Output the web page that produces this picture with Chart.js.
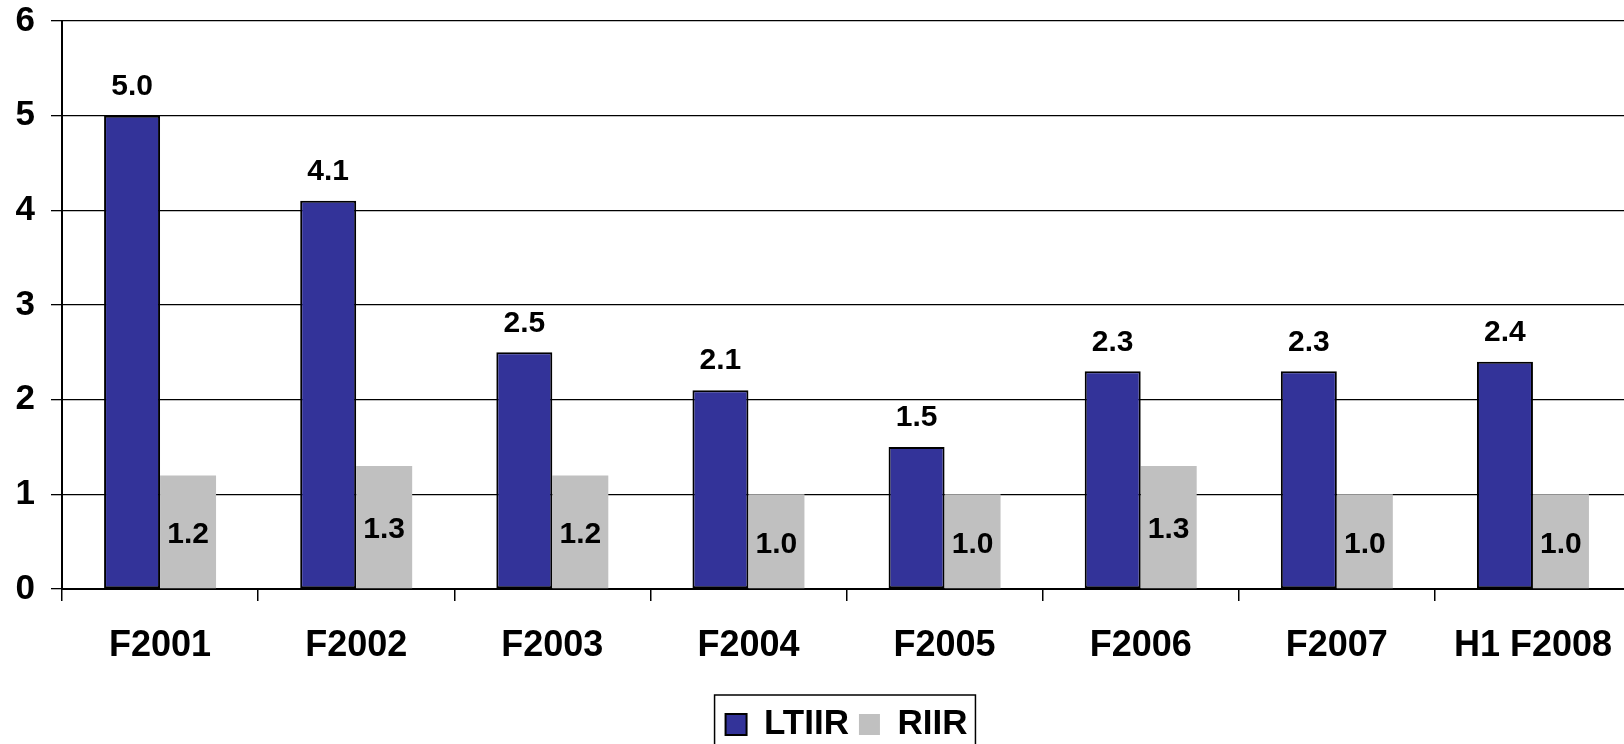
<!DOCTYPE html>
<html>
<head>
<meta charset="utf-8">
<title>LTIIR / RIIR</title>
<script src="https://cdn.jsdelivr.net/npm/chart.js@4.4.1/dist/chart.umd.min.js"></script>
<style>
  html, body { margin: 0; padding: 0; background: #fff; overflow: hidden; }
  #wrap { width: 1635px; height: 744px; }
</style>
</head>
<body>
<div id="wrap"><canvas id="injuryChart" width="1635" height="744"></canvas></div>
<script>
const periods = ['F2001', 'F2002', 'F2003', 'F2004', 'F2005', 'F2006', 'F2007', 'H1 F2008'];
const ltiirValues = [5.0, 4.1, 2.5, 2.1, 1.5, 2.3, 2.3, 2.4];
const riirValues = [1.2, 1.3, 1.2, 1.0, 1.0, 1.3, 1.0, 1.0];
const yTicks = [0, 1, 2, 3, 4, 5, 6];

const FONT = '"Liberation Sans", Arial, sans-serif';

// numbers on the bars: LTIIR above the bar, RIIR inside it
const valueLabels = {
  id: 'valueLabels',
  afterDatasetsDraw(chart) {
    const ctx = chart.ctx;
    ctx.save();
    ctx.font = 'bold 30px ' + FONT;
    ctx.fillStyle = '#000';
    ctx.textAlign = 'center';
    ctx.textBaseline = 'middle';
    chart.getDatasetMeta(0).data.forEach((bar, i) => {
      ctx.fillText(ltiirValues[i].toFixed(1), bar.x, bar.y - 29);
    });
    chart.getDatasetMeta(1).data.forEach((bar, i) => {
      ctx.fillText(riirValues[i].toFixed(1), bar.x, (bar.y + bar.base) / 2 + 3);
    });
    ctx.restore();
  }
};

// box around the legend
const legendFrame = {
  id: 'legendFrame',
  afterDraw(chart) {
    const boxes = chart.legend.legendHitBoxes;
    if (!boxes || !boxes.length) return;
    const first = boxes[0];
    const last = boxes[boxes.length - 1];
    const left = first.left - 11;
    const right = last.left + last.width + 8;
    const top = first.top - 12;
    const ctx = chart.ctx;
    ctx.save();
    ctx.strokeStyle = '#000';
    ctx.lineWidth = 1.5;
    ctx.strokeRect(left, top, right - left, chart.height - top + 5);
    ctx.restore();
  }
};

new Chart(document.getElementById('injuryChart'), {
  type: 'bar',
  data: {
    labels: periods,
    datasets: [
      {
        label: 'LTIIR',
        data: ltiirValues,
        backgroundColor: '#333399',
        borderColor: '#000',
        borderWidth: 2,
        borderSkipped: false
      },
      {
        label: 'RIIR',
        data: riirValues,
        backgroundColor: '#C0C0C0',
        borderWidth: 0
      }
    ]
  },
  options: {
    responsive: false,
    animation: false,
    datasets: {
      bar: { categoryPercentage: 0.571, barPercentage: 1 }
    },
    layout: { padding: { top: 21, left: 0, right: 0, bottom: -8 } },
    plugins: {
      tooltip: { enabled: false },
      legend: {
        position: 'bottom',
        fullSize: false,
        labels: {
          boxWidth: 21,
          boxHeight: 21,
          padding: 10,
          color: '#000',
          font: { family: FONT, size: 35, weight: 'bold' }
        }
      }
    },
    scales: {
      x: {
        afterFit(scale) { scale.height = 108; },
        grid: {
          offset: true,
          drawOnChartArea: false,
          color: '#000',
          lineWidth: 1.5,
          tickLength: 12
        },
        border: { color: '#000', width: 2 },
        ticks: {
          color: '#000',
          padding: 23,
          maxRotation: 0,
          font: { family: FONT, size: 36, weight: 'bold' }
        }
      },
      y: {
        min: 0,
        max: 6,
        afterFit(scale) {
          scale.width = 62;
          scale.paddingTop = 0;
        },
        afterBuildTicks(scale) { scale.ticks = yTicks.map(v => ({ value: v })); },
        grid: { color: '#000', lineWidth: 1.3, tickLength: 11 },
        border: { color: '#000', width: 2 },
        ticks: {
          color: '#000',
          padding: 16,
          font: { family: FONT, size: 35, weight: 'bold' }
        }
      }
    }
  },
  plugins: [valueLabels, legendFrame]
});
</script>
</body>
</html>
